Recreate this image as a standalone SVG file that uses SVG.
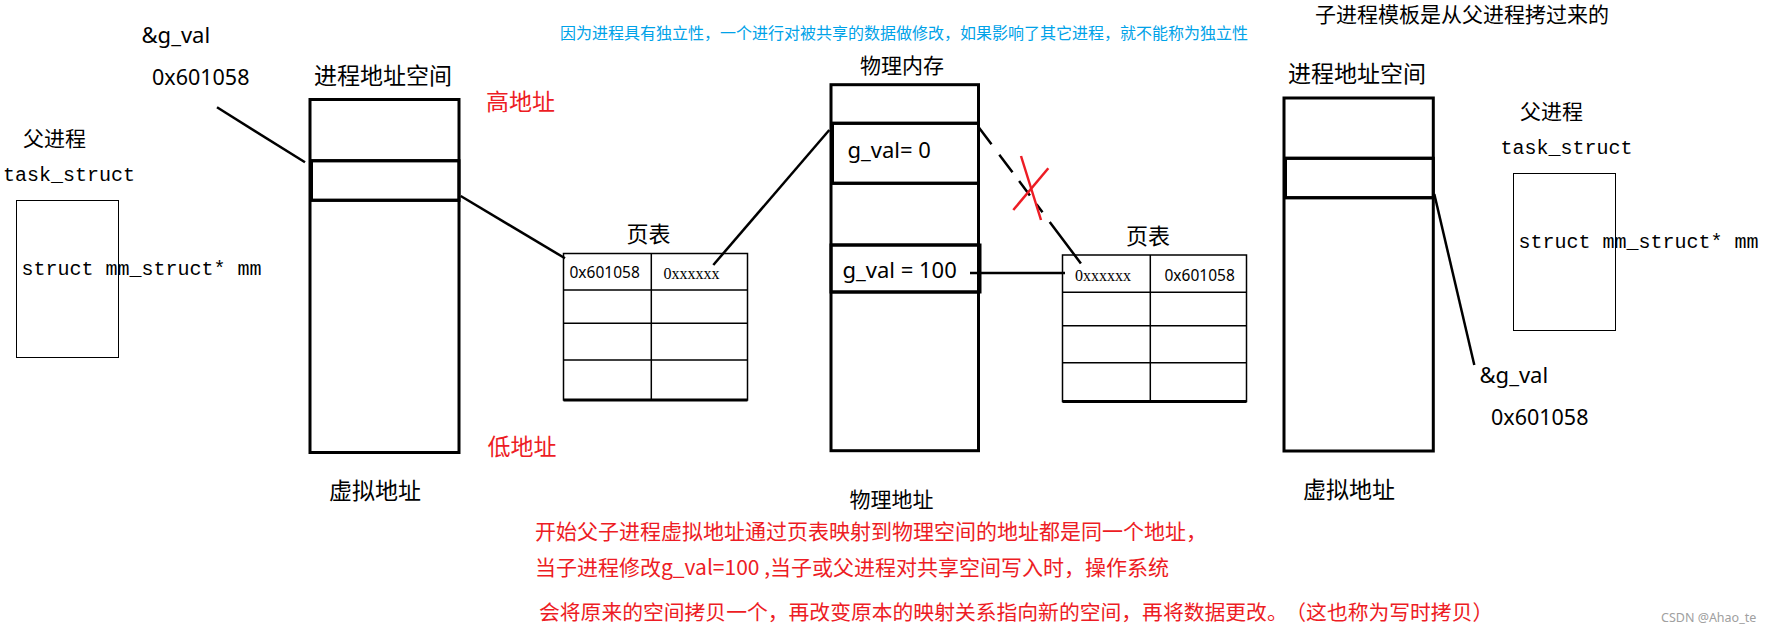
<svg xmlns="http://www.w3.org/2000/svg" width="1766" height="633" viewBox="0 0 1766 633">
<style>
.cjk{font-family:"Noto Sans CJK SC","Noto Sans",sans-serif;fill:#000}
.lat{font-family:"Noto Sans","Noto Sans CJK SC",sans-serif;fill:#000}
.mono{font-family:"Liberation Mono","DejaVu Sans Mono",monospace;font-size:20px;fill:#000}
.ser{font-family:"Liberation Serif",serif;font-size:16px;fill:#000}
.red{fill:#ED1C24}
.blue{fill:#00A2E8}
.thick{fill:none;stroke:#000;stroke-width:3}
.thin{fill:none;stroke:#000;stroke-width:1}
.grid{fill:none;stroke:#000;stroke-width:1.5}
.conn{fill:none;stroke:#000;stroke-width:2.5;stroke-linecap:butt}
.cross{fill:none;stroke:#ED1C24;stroke-width:2.5}
</style>
<rect width="1766" height="633" fill="#fff"/>

<g id="heading-child">
<text class="cjk" x="1315" y="21.5" font-size="21">子进程模板是从父进程拷过来的</text>
</g>

<g id="note-blue">
<text class="cjk blue" x="560" y="39" font-size="16">因为进程具有独立性，一个进行对被共享的数据做修改，如果影响了其它进程，就不能称为独立性</text>
</g>

<g id="left-gval-label">
<text class="lat" x="141.5" y="43" font-size="22">&amp;g_val</text>
<text class="lat" x="152" y="85" font-size="21.5">0x601058</text>
</g>

<g id="left-task-struct">
<text class="cjk" x="23" y="145.5" font-size="21">父进程</text>
<text class="mono" x="3" y="180.7">task_struct</text>
<rect class="thin" x="16.5" y="200.5" width="102" height="157"/>
<text class="mono" x="21.5" y="275">struct mm_struct* mm</text>
</g>

<g id="left-vas">
<text class="cjk" x="314" y="84" font-size="23">进程地址空间</text>
<rect class="thick" x="310" y="99.5" width="149" height="353"/>
<line class="thick" x1="310" y1="160.7" x2="459" y2="160.7"/>
<line class="thick" x1="310" y1="200.3" x2="459" y2="200.3"/>
<rect class="thick" x="311.5" y="160.7" width="147.5" height="39.6"/>
<text class="cjk red" x="486" y="110" font-size="23">高地址</text>
<text class="cjk red" x="487.5" y="455" font-size="23">低地址</text>
<text class="cjk" x="329" y="499" font-size="23">虚拟地址</text>
</g>

<g id="page-table-1">
<text class="cjk" x="626.5" y="241.5" font-size="22">页表</text>
<rect class="grid" x="563.5" y="253.5" width="184" height="146.5"/>
<line class="grid" x1="651.3" y1="253.5" x2="651.3" y2="400"/>
<line class="grid" x1="563.5" y1="290" x2="747.5" y2="290"/>
<line class="grid" x1="563.5" y1="323.3" x2="747.5" y2="323.3"/>
<line class="grid" x1="563.5" y1="360" x2="747.5" y2="360"/>
<line class="thick" x1="563.5" y1="400" x2="747.5" y2="400"/>
<text class="lat" x="569.5" y="278" font-size="15.5">0x601058</text>
<text class="ser" x="663.5" y="278.5">0xxxxxx</text>
</g>

<g id="phys-mem">
<text class="cjk" x="860" y="72.5" font-size="21">物理内存</text>
<rect class="thick" x="831" y="84.7" width="147.5" height="366"/>
<line class="thick" x1="831" y1="123.3" x2="978.5" y2="123.3"/>
<line class="thick" x1="831" y1="183.3" x2="978.5" y2="183.3"/>
<line class="thick" x1="831" y1="245" x2="978.5" y2="245"/>
<line class="thick" x1="831" y1="292" x2="978.5" y2="292"/>
<rect class="thick" x="832.5" y="123.3" width="146" height="60"/>
<rect class="thick" x="831" y="245" width="149" height="47"/>
<text class="lat" x="847.5" y="158" font-size="22">g_val= 0</text>
<text class="lat" x="842.5" y="277.5" font-size="22">g_val = 100</text>
<text class="cjk" x="849.5" y="507" font-size="21">物理地址</text>
</g>

<g id="page-table-2">
<text class="cjk" x="1126" y="243.5" font-size="22">页表</text>
<rect class="grid" x="1062.5" y="255" width="184" height="146.5"/>
<line class="grid" x1="1150.3" y1="255" x2="1150.3" y2="401.5"/>
<line class="grid" x1="1062.5" y1="292.3" x2="1246.5" y2="292.3"/>
<line class="grid" x1="1062.5" y1="325.7" x2="1246.5" y2="325.7"/>
<line class="grid" x1="1062.5" y1="362.7" x2="1246.5" y2="362.7"/>
<line class="thick" x1="1062.5" y1="401.5" x2="1246.5" y2="401.5"/>
<text class="ser" x="1075" y="281">0xxxxxx</text>
<text class="lat" x="1164.5" y="281" font-size="15.5">0x601058</text>
</g>

<g id="right-vas">
<text class="cjk" x="1288" y="81.5" font-size="23">进程地址空间</text>
<rect class="thick" x="1284" y="98" width="149.3" height="353"/>
<line class="thick" x1="1284" y1="158.3" x2="1433.3" y2="158.3"/>
<line class="thick" x1="1284" y1="197.7" x2="1433.3" y2="197.7"/>
<rect class="thick" x="1285.5" y="158.3" width="147.8" height="39.4"/>
<text class="cjk" x="1303" y="498" font-size="23">虚拟地址</text>
</g>

<g id="right-task-struct">
<text class="cjk" x="1520" y="118.5" font-size="21">父进程</text>
<text class="mono" x="1500.5" y="154">task_struct</text>
<rect class="thin" x="1513.5" y="173.5" width="102" height="157"/>
<text class="mono" x="1518.5" y="248.3">struct mm_struct* mm</text>
</g>

<g id="right-gval-label">
<text class="lat" x="1479.5" y="383" font-size="22">&amp;g_val</text>
<text class="lat" x="1491" y="425" font-size="21.5">0x601058</text>
</g>

<g id="note-red">
<text class="cjk red" x="535" y="538.5" font-size="21">开始父子进程虚拟地址通过页表映射到物理空间的地址都是同一个地址，</text>
<text class="cjk red" x="535" y="575" font-size="21">当子进程修改g_val=100 ,当子或父进程对共享空间写入时，操作系统</text>
<text class="cjk red" x="539" y="620" font-size="20.8">会将原来的空间拷贝一个，再改变原本的映射关系指向新的空间，再将数据更改。<tspan dx="8">（这也称为写时拷贝）</tspan></text>
</g>

<g id="watermark">
<text x="1661" y="622" font-family="Noto Sans, sans-serif" font-size="12.5" fill="#a0a0a0">CSDN @Ahao_te</text>
</g>

<g id="connectors">
<line class="conn" x1="217" y1="107.3" x2="305" y2="162.3"/>
<line class="conn" x1="460.7" y1="196" x2="565" y2="258.3"/>
<line class="conn" x1="713.3" y1="265" x2="829.3" y2="130" stroke-width="3"/>
<line class="conn" x1="970" y1="273" x2="1065" y2="273" stroke-width="3"/>
<path class="conn" d="M978.3 126.7L991.5 144.3M999.3 154.7L1012.5 172.3M1019.1 181.1L1029.9 195.5M1036.5 204.3L1042.5 212.3M1049.7 221.9L1080.9 263.5"/>
<line class="conn" x1="1434.3" y1="194" x2="1474.3" y2="365"/>
<line class="cross" x1="1021" y1="156" x2="1041" y2="220"/>
<line class="cross" x1="1048.3" y1="168.3" x2="1013.3" y2="210"/>
</g>
</svg>
